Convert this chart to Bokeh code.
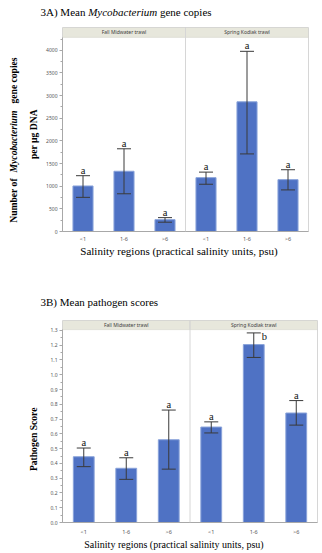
import math
from bokeh.plotting import figure
from bokeh.models import (Range1d, FixedTicker, SingleIntervalTicker, Whisker, TeeHead,
                          BoxAnnotation, Label, ColumnDataSource, Span, NumeralTickFormatter)
from bokeh.layouts import column, row
from bokeh.embed import file_html
from bokeh.resources import INLINE
from bokeh.core.properties import value

# ---------------- data ----------------
panels = ["Fall Midwater trawl", "Spring Kodiak trawl"]
regions = ["<1", "1-6", ">6"]
x_title = "Salinity regions (practical salinity units, psu)"

myco_mean = [1005, 1330, 262, 1189, 2863, 1145]
myco_lower = [754, 833, 205, 1043, 1713, 918]
myco_upper = [1232, 1826, 306, 1311, 3978, 1364]
myco_letters = ["a", "a", "a", "a", "a", "a"]

path_mean = [0.445, 0.367, 0.560, 0.646, 1.204, 0.741]
path_lower = [0.378, 0.292, 0.361, 0.606, 1.117, 0.659]
path_upper = [0.504, 0.438, 0.761, 0.681, 1.283, 0.825]
path_letters = ["a", "a", "a", "a", "b", "a"]

SERIF = "Liberation Serif"
SANS = "Noto Sans"
BAR = "#4f72c4"
BAR_EDGE = "#8aa3da"
GRAYLINE = "#a8a8a8"
FRAME = "#d6d6d6"
HEAD_FILL = "#e7e7dc"
HEAD_LINE = "#c4c4b8"
W = 322
YLAB_W = 40
ROT_FS = 9.6  # rotated text renders wider than its nominal size here


def text_fig(w, h):
    f = figure(width=w, height=h, output_backend="svg", toolbar_location=None,
               x_range=Range1d(0, w), y_range=Range1d(h, 0),
               x_axis_type=None, y_axis_type=None,
               min_border=0, min_border_left=0, min_border_right=0,
               min_border_top=0, min_border_bottom=0)
    f.outline_line_color = None
    f.grid.visible = False
    f.background_fill_color = "white"
    f.border_fill_color = "white"
    return f


def add_label(p, x, y, text, size, style="normal", angle=0.0):
    p.add_layout(Label(x=x, y=y, text=text, text_font=SERIF, text_font_size=f"{size}px",
                       text_font_style=style, text_color="black", text_align="left",
                       text_baseline="middle", angle=angle))


def add_run(p, x, y, parts, size, vertical=False, center=True):
    """parts: (text, style, advance_em). Laid out left-to-right (or bottom-to-top)."""
    total = sum(w for _, _, w in parts) * size
    if vertical:
        pos = y + total / 2 if center else y
        for text, style, w in parts:
            if text.strip():
                add_label(p, x, pos, text, ROT_FS, style, math.pi / 2)
            pos -= w * size
    else:
        pos = x - total / 2 if center else x
        for text, style, w in parts:
            if text.strip():
                add_label(p, pos, y, text, size, style)
            pos += w * size


def make_chart(mean, lower, upper, letters, y_end, y_head, interval, fmt,
               height, b_left, b_bottom, b_right, x_std):
    n = len(panels) * len(regions)
    p = figure(width=W - YLAB_W, height=height, output_backend="svg", toolbar_location=None,
               x_range=Range1d(0, n), y_range=Range1d(0, y_end),
               min_border_left=b_left, min_border_right=b_right,
               min_border_top=0, min_border_bottom=b_bottom)
    p.background_fill_color = "white"
    p.border_fill_color = "white"
    p.outline_line_color = FRAME
    p.grid.visible = False

    xs = [pi * len(regions) + ci + 0.5 for pi in range(len(panels)) for ci in range(len(regions))]
    labels = [r for _ in panels for r in regions]

    for i, name in enumerate(panels):
        p.add_layout(BoxAnnotation(left=i * len(regions), right=(i + 1) * len(regions),
                                   bottom=y_head, top=y_end, fill_color=HEAD_FILL, fill_alpha=1,
                                   line_color=HEAD_LINE, line_width=1, level="underlay"))
        p.add_layout(Label(x=i * len(regions) + len(regions) / 2, y=(y_head + y_end) / 2, text=name,
                           text_font=SANS, text_font_size="5px", text_color="#404040",
                           text_align="center", text_baseline="middle"))
    for i in range(1, len(panels)):
        p.add_layout(Span(location=i * len(regions), dimension="height",
                          line_color=FRAME, line_width=1))

    src = ColumnDataSource(dict(x=xs, mean=mean, lo=lower, hi=upper))
    p.vbar(x="x", top="mean", bottom=0, width=0.49, source=src,
           fill_color=BAR, line_color=BAR_EDGE, line_width=1)
    p.add_layout(Whisker(source=src, base="x", upper="hi", lower="lo",
                         line_color="#3a3a3a", line_width=1, level="overlay",
                         upper_head=TeeHead(size=14, line_color="#3a3a3a", line_width=1),
                         lower_head=TeeHead(size=14, line_color="#3a3a3a", line_width=1)))

    above = ColumnDataSource(dict(x=[x for x, l in zip(xs, letters) if l == "a"],
                                  y=[h for h, l in zip(upper, letters) if l == "a"],
                                  t=[l for l in letters if l == "a"]))
    side = ColumnDataSource(dict(x=[x for x, l in zip(xs, letters) if l != "a"],
                                 y=[h for h, l in zip(upper, letters) if l != "a"],
                                 t=[l for l in letters if l != "a"]))
    p.text(x="x", y="y", text="t", source=above, text_font=value(SERIF),
           text_font_size="10.5px", text_color="#111111", text_align="center",
           text_baseline="bottom", y_offset=0)
    p.text(x="x", y="y", text="t", source=side, text_font=value(SERIF),
           text_font_size="10.5px", text_color="#111111", text_align="left",
           text_baseline="top", x_offset=8, y_offset=-1.5)

    yax = p.yaxis[0]
    yax.ticker = SingleIntervalTicker(interval=interval, num_minor_ticks=2)
    yax.formatter = NumeralTickFormatter(format=fmt)
    yax.bounds = (0, y_head)
    yax.axis_line_color = GRAYLINE
    yax.major_tick_line_color = GRAYLINE
    yax.minor_tick_line_color = GRAYLINE
    yax.major_tick_in = 0
    yax.major_tick_out = 3
    yax.minor_tick_in = 0
    yax.minor_tick_out = 2
    yax.major_label_text_font = SANS
    yax.major_label_text_font_size = "5px"
    yax.major_label_text_color = "#555555"
    yax.major_label_standoff = 2

    xax = p.xaxis[0]
    xax.ticker = FixedTicker(ticks=xs)
    xax.major_label_overrides = {x: l for x, l in zip(xs, labels)}
    xax.axis_line_color = GRAYLINE
    xax.major_tick_line_color = None
    xax.minor_tick_line_color = None
    xax.major_tick_in = 0
    xax.major_tick_out = 0
    xax.minor_tick_in = 0
    xax.minor_tick_out = 0
    xax.major_label_text_font = SANS
    xax.major_label_text_font_size = "5.5px"
    xax.major_label_text_color = "#555555"
    xax.major_label_standoff = x_std
    return p


FS = 11
XT_W = 17.944

# ---------------- section A ----------------
titleA = text_fig(W, 27)
add_run(titleA, 40, 11, [("3A) Mean", "normal", 4.082), (" ", "normal", 0.25),
                         ("Mycobacterium", "italic", 6.276), (" ", "normal", 0.25),
                         ("gene copies", "normal", 4.693)], FS, center=False)

chartA = make_chart(myco_mean, myco_lower, myco_upper, myco_letters,
                    y_end=4504, y_head=4285, interval=500, fmt="0",
                    height=218, b_left=22, b_bottom=12, b_right=14, x_std=3)

ylabA = text_fig(YLAB_W, 218)
top0 = 27
add_run(ylabA, 13, 145.5 - top0,
        [("Number of", "bold", 4.638), (" ", "bold", 0.25),
         ("Mycobacterium", "bold italic", 6.444), (" ", "bold", 0.25),
         ("gene copies", "bold", 4.805)], FS, vertical=True)
add_run(ylabA, 33, 140.5 - top0, [("per µg DNA", "bold", 4.916)], FS, vertical=True)

xtitA = text_fig(W, 17)
add_run(xtitA, 178.5, 5.5, [(x_title, "normal", XT_W)], 11)

# ---------------- section B ----------------
titleB = text_fig(W, 58)
add_run(titleB, 40, 39.7, [("3B)  Mean pathogen scores", "normal", 10.94)], FS, center=False)

chartB = make_chart(path_mean, path_lower, path_upper, path_letters,
                    y_end=1.367, y_head=1.305, interval=0.1, fmt="0.0",
                    height=218, b_left=22, b_bottom=12, b_right=5, x_std=5)

ylabB = text_fig(YLAB_W, 218)
add_run(ylabB, 33, 446 - 320, [("Pathogen Score", "bold", 6.638)], FS, vertical=True)

xtitB = text_fig(W, 15)
add_run(xtitB, 173.5, 6, [(x_title, "normal", XT_W)], 10)

layout = column(titleA, row(ylabA, chartA, spacing=0), xtitA,
                titleB, row(ylabB, chartB, spacing=0), xtitB, spacing=0)
open("out.html", "w").write(file_html(layout, INLINE))
